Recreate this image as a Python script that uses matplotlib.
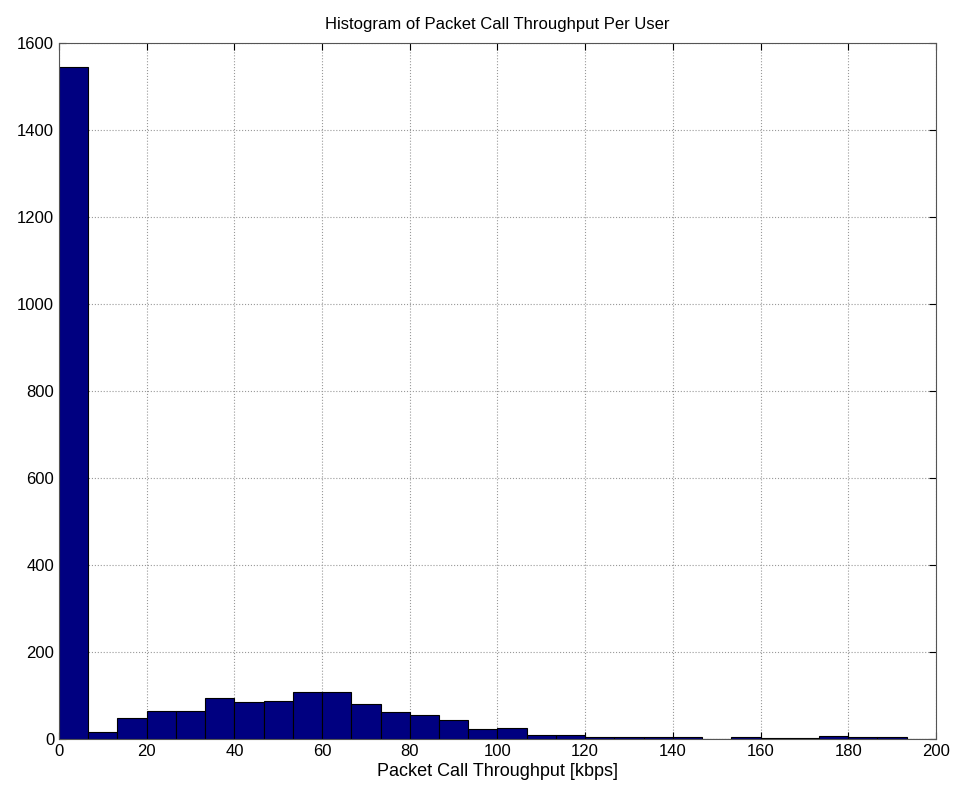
import matplotlib.pyplot as plt
import numpy as np

plt.rcParams['font.family'] = ['Liberation Sans', 'DejaVu Sans']

# histogram counts, 30 bins between 0 and 200 kbps
bin_lo = 0
bin_hi = 200
counts = [1545, 16, 48, 64, 64, 95, 85, 88, 108, 108,
          80, 62, 55, 43, 24, 25, 10, 8, 5, 5,
          4, 4, 1, 4, 2, 3, 6, 4, 4, 1]

xticks = [0, 20, 40, 60, 80, 100, 120, 140, 160, 180, 200]
yticks = [0, 200, 400, 600, 800, 1000, 1200, 1400, 1600]

edges = np.linspace(bin_lo, bin_hi, len(counts) + 1)

fig = plt.figure(figsize=(9.55, 7.94), dpi=100)
ax = fig.add_axes([0.0618, 0.0693, 0.9182, 0.8767])

ax.bar(edges[:-1], counts, width=np.diff(edges), align='edge',
       color='#000080', edgecolor='black', linewidth=0.8, zorder=2)

ax.set_xlim(0, 200)
ax.set_ylim(0, 1600)
ax.set_xticks(xticks)
ax.set_yticks(yticks)
ax.grid(True, linestyle=':', color='#999999', linewidth=0.8, zorder=0)
ax.set_axisbelow(True)
ax.tick_params(direction='in', top=True, right=True, labelsize=12, length=5)
for s in ax.spines.values():
    s.set_color('#555555')

ax.set_title('Histogram of Packet Call Throughput Per User', fontsize=12, pad=10)
ax.set_xlabel('Packet Call Throughput [kbps]', fontsize=13, labelpad=3)

plt.savefig('out.png')
